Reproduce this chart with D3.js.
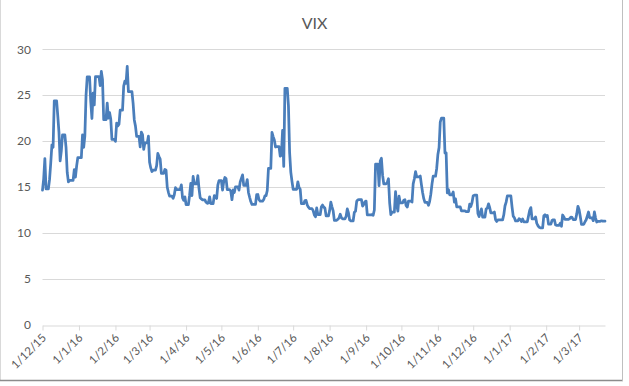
<!DOCTYPE html>
<html>
<head>
<meta charset="utf-8">
<script src="https://cdn.jsdelivr.net/npm/d3@7"></script>
<style>
  html, body { margin: 0; padding: 0; background: #fff; }
  svg { display: block; }
  text { font-family: Lato, "Open Sans", sans-serif; fill: #595959; }
</style>
</head>
<body>
<svg id="chart" width="629" height="386"></svg>
<script>
// VIX daily values (one entry per calendar day; non-trading days repeat the last close)
const dec15 = [14.67,15.91,18.11,14.81,14.81,14.81,15.84,17.60,19.61,19.34,24.39,24.39,24.39,22.73,20.95,17.86,18.94,20.70,20.70,20.70,19.34,16.60,15.57,15.74,15.74,15.74,15.74,16.91,16.08,17.29,18.21];
const jan16 = [18.21,18.21,18.21,20.70,19.34,20.59,24.99,27.01,27.01,27.01,24.30,22.47,25.22,23.95,27.02,27.02,27.02,27.02,26.05,27.59,26.69,22.34,22.34,22.34,24.15,22.50,23.11,22.42,20.20,20.20,20.20];
const feb16 = [19.98,21.98,21.65,21.84,23.38,23.38,23.38,26.00,26.54,26.29,28.14,25.40,25.40,25.40,25.40,24.11,22.31,21.64,20.53,20.53,20.53,19.38,20.98,20.72,19.11,19.81,19.81,19.81,20.55];
const mar16 = [17.70,17.09,16.70,16.86,16.86,16.86,17.35,18.67,18.34,18.05,16.50,16.50,16.50,16.92,16.84,14.99,14.44,14.02,14.02,14.02,13.79,14.17,14.94,14.74,14.74,14.74,14.74,15.24,13.82,13.56,13.95];
const apr16 = [13.10,13.10,13.10,14.12,15.42,14.09,16.16,15.36,15.36,15.36,16.26,14.85,13.84,13.72,13.62,13.62,13.62,13.35,13.24,13.28,13.95,13.22,13.22,13.22,14.08,13.96,13.77,15.22,15.70,15.70];
const may16 = [15.70,14.68,15.60,16.05,15.91,14.72,14.72,14.72,14.57,13.63,14.69,14.41,15.04,15.04,15.04,14.68,15.57,15.95,16.33,15.20,15.20,15.20,15.82,14.42,13.90,13.43,13.12,13.12,13.12,13.12,14.19];
const jun16 = [14.20,13.63,13.47,13.47,13.47,13.65,14.05,14.08,14.64,17.03,17.03,17.03,20.97,20.50,20.14,19.37,19.41,19.41,19.41,18.37,18.48,21.17,17.25,25.76,25.76,25.76,23.85,18.75,16.64,15.63];
const jul16 = [14.77,14.77,14.77,14.77,15.58,14.96,14.76,13.20,13.20,13.20,13.54,13.55,13.04,12.82,12.67,12.67,12.67,12.44,11.97,11.77,12.74,12.02,12.02,12.02,12.87,13.05,12.83,12.72,11.87,11.87,11.87];
const aug16 = [12.44,13.37,12.86,12.42,11.39,11.39,11.39,11.50,11.66,12.05,11.68,11.55,11.55,11.55,11.81,12.64,12.19,11.43,11.34,11.34,11.34,12.27,12.38,13.45,13.63,13.65,13.65,13.65,12.94,13.12,13.42];
const sep16 = [13.48,11.98,11.98,11.98,11.98,12.02,11.94,12.51,17.50,17.50,17.50,15.16,17.85,18.14,16.30,15.37,15.37,15.37,15.53,15.92,13.30,12.02,12.29,12.29,12.29,14.50,13.10,12.39,14.02,13.29];
const oct16 = [13.29,13.29,13.57,13.63,12.99,12.84,13.48,13.48,13.48,13.38,15.36,15.91,16.69,16.12,16.12,16.12,16.21,15.28,14.41,13.75,13.34,13.34,13.34,13.02,13.46,14.24,15.36,16.19,16.19,16.19,17.06];
const nov16 = [18.56,19.32,22.08,22.51,22.51,22.51,18.71,18.74,14.38,14.74,14.17,14.17,14.17,14.48,13.37,13.72,12.85,12.85,12.85,12.85,12.42,12.41,12.43,12.43,12.34,12.34,12.34,13.15,12.90,13.33];
const dec16 = [14.07,14.12,14.12,14.12,12.14,11.79,12.22,12.64,11.75,11.75,11.75,12.64,12.72,13.19,12.79,12.20,12.20,12.20,12.29,11.45,11.27,11.43,11.44,11.44,11.44,11.44,11.99,12.95,13.37,14.04,14.04];
const jan17 = [14.04,14.04,12.85,11.85,11.67,11.32,11.32,11.32,11.56,11.49,11.26,11.54,11.23,11.23,11.23,11.23,11.87,12.48,12.78,11.54,11.54,11.54,11.77,11.07,10.81,10.63,10.58,10.58,10.58,11.88,11.99];
const feb17 = [11.81,11.93,10.97,10.97,10.97,11.37,11.45,11.45,10.88,10.85,10.85,10.85,11.07,10.74,11.97,11.76,11.49,11.49,11.49,11.49,11.57,11.74,11.71,11.47,11.47,11.47,12.09,12.92];
const mar17 = [12.54,11.81,10.96,10.96,10.96,11.24,11.45,11.86,12.30,11.66,11.66,11.66,11.35,12.30,11.63,11.21,11.28,11.28,11.28,11.34,11.30,11.30,11.30];

const months = [
  [2015, 11, dec15], [2016, 0, jan16], [2016, 1, feb16], [2016, 2, mar16],
  [2016, 3, apr16], [2016, 4, may16], [2016, 5, jun16], [2016, 6, jul16],
  [2016, 7, aug16], [2016, 8, sep16], [2016, 9, oct16], [2016, 10, nov16],
  [2016, 11, dec16], [2017, 0, jan17], [2017, 1, feb17], [2017, 2, mar17]
];

const xTickLabels = ["1/12/15","1/1/16","1/2/16","1/3/16","1/4/16","1/5/16","1/6/16","1/7/16","1/8/16","1/9/16","1/10/16","1/11/16","1/12/16","1/1/17","1/2/17","1/3/17"];
const yTicks = [0, 5, 10, 15, 20, 25, 30];
const title = "VIX";

const data = months.flatMap(([yr, mo, vals]) =>
  vals.map((v, i) => ({ date: new Date(yr, mo, i + 1), value: v })));

const parse = d3.timeParse("%d/%m/%y");
const tickDates = xTickLabels.map(parse);

const svg = d3.select("#chart");

// chart area border
svg.append("line").attr("x1", 0.5).attr("x2", 0.5).attr("y1", 0).attr("y2", 380).attr("stroke", "#d9d9d9");
svg.append("line").attr("x1", 0).attr("x2", 623).attr("y1", 380.5).attr("y2", 380.5).attr("stroke", "#8c8c8c").attr("stroke-width", 1.5);
svg.append("line").attr("x1", 622.5).attr("x2", 622.5).attr("y1", 0).attr("y2", 381).attr("stroke", "#bfbfbf");

const x = d3.scaleTime()
  .domain(d3.extent(data, d => d.date))
  .range([42.5, 605]);
const y = d3.scaleLinear().domain([0, 30]).range([325, 49.3]);

// gridlines
svg.append("g").selectAll("line").data(yTicks.filter(t => t > 0)).join("line")
  .attr("x1", 42.5).attr("x2", 605)
  .attr("y1", d => Math.round(y(d)) + 0.5).attr("y2", d => Math.round(y(d)) + 0.5)
  .attr("stroke", "#d9d9d9").attr("stroke-width", 1);

// y labels
svg.append("g").selectAll("text").data(yTicks).join("text")
  .attr("x", 31).attr("y", d => y(d)).attr("dy", "0.35em")
  .attr("text-anchor", "end").attr("font-size", 12)
  .text(d => d);

// x axis
const xAxis = d3.axisBottom(x).tickValues(tickDates)
  .tickFormat((d, i) => xTickLabels[i]).tickSize(5).tickSizeOuter(0);
const gx = svg.append("g").attr("transform", "translate(0,325.5)").call(xAxis);
gx.select(".domain").attr("stroke", "#d9d9d9");
gx.selectAll(".tick line").attr("stroke", "#d9d9d9");
gx.selectAll(".tick text")
  .attr("y", 0).attr("dy", 0)
  .attr("transform", "translate(4,13) rotate(-45)")
  .attr("text-anchor", "end")
  .attr("font-size", 11.5)
  .attr("font-family", "Lato, 'Open Sans', sans-serif")
  .attr("fill", "#595959");

// line
const line = d3.line().x(d => x(d.date)).y(d => y(d.value));
svg.append("path").datum(data)
  .attr("d", line)
  .attr("fill", "none")
  .attr("stroke", "#4a7ebb")
  .attr("stroke-width", 2.75)
  .attr("stroke-linejoin", "round")
  .attr("stroke-linecap", "round");

// title
svg.append("text").attr("x", 314.5).attr("y", 28.5)
  .attr("text-anchor", "middle").attr("font-size", 16)
  .text(title);
</script>
</body>
</html>
